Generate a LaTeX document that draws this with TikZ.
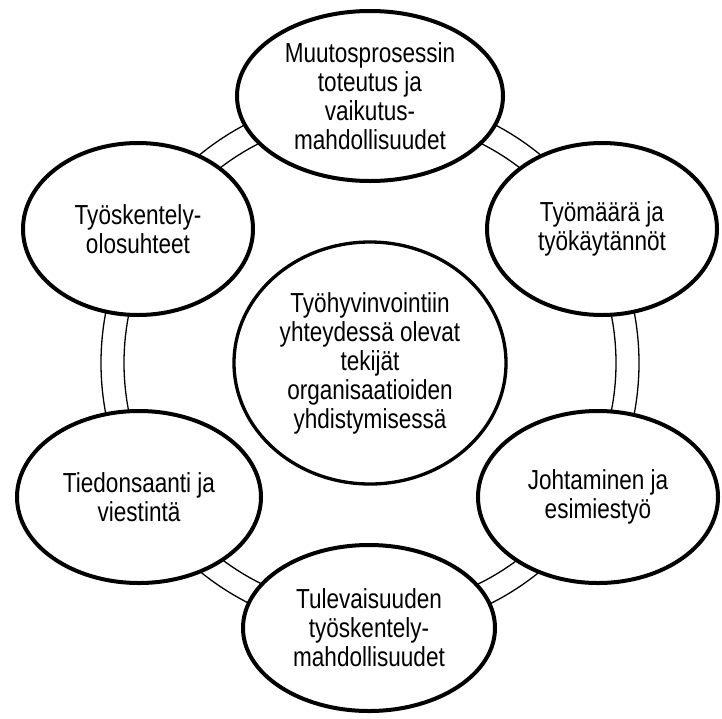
\documentclass[tikz,border=0pt]{standalone}
\usepackage{fontspec}
\setmainfont{Liberation Sans}[FakeStretch=0.82]
\usetikzlibrary{shapes.geometric}
\tikzset{
  bubble/.style={ellipse, draw=black, fill=white, line width=4pt, inner sep=0pt, outer sep=0pt,
    align=center, font=\fontsize{27.5}{29}\selectfont},
  hub/.style={bubble, line width=3.3pt},
  ringline/.style={draw=black, line width=1.3pt}
}
\begin{document}
\begin{tikzpicture}[x=1pt,y=-1pt]
\useasboundingbox (0,0) rectangle (722,718);
\coordinate (c) at (370,363);
\draw[ringline] (c) circle[radius=269];
\draw[ringline] (c) circle[radius=246];
\node[hub, minimum width=272pt, minimum height=242pt] (hub) at (c)
  {Työhyvinvointiin\\yhteydessä olevat\\tekijät\\organisaatioiden\\yhdistymisessä};
\node[bubble, minimum width=266pt, minimum height=170pt] (top) at (370,96)
  {Muutosprosessin\\toteutus ja\\vaikutus-\\mahdollisuudet};
\node[bubble, minimum width=230pt, minimum height=172pt] (ul) at (138,229)
  {Työskentely-\\olosuhteet};
\node[bubble, minimum width=230pt, minimum height=172pt] (ur) at (602,229)
  {Työmäärä ja\\työkäytännöt};
\node[bubble, minimum width=244pt, minimum height=172pt] (ll) at (139,497)
  {Tiedonsaanti ja\\viestintä};
\node[bubble, minimum width=240pt, minimum height=172pt] (lr) at (598,497)
  {Johtaminen ja\\esimiestyö};
\node[bubble, minimum width=252pt, minimum height=166pt] (bot) at (369,628)
  {Tulevaisuuden\\työskentely-\\mahdollisuudet};
\end{tikzpicture}
\end{document}
